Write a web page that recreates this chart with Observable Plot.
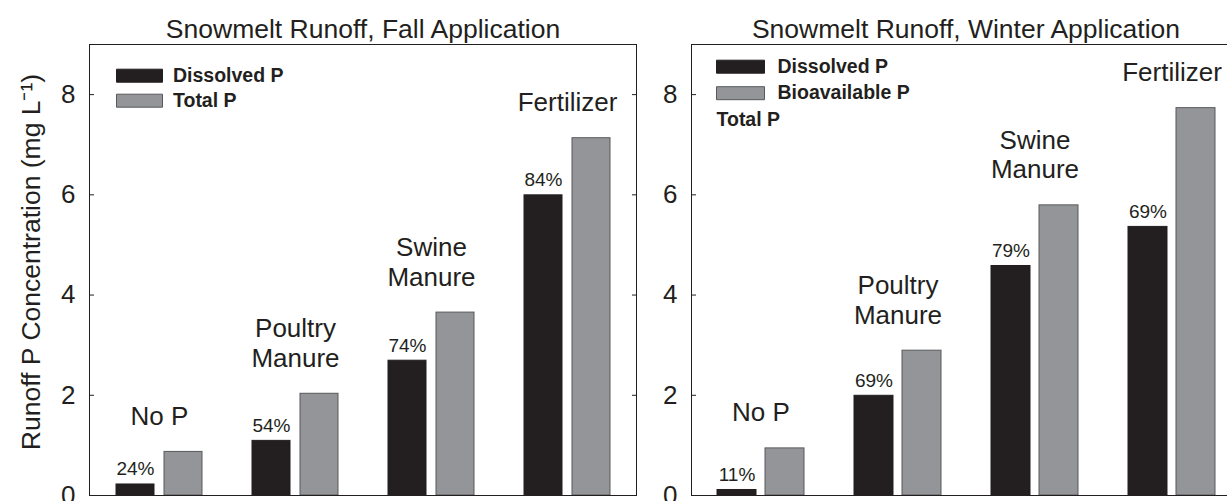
<!DOCTYPE html>
<html>
<head>
<meta charset="utf-8">
<script src="https://cdn.jsdelivr.net/npm/d3@7"></script>
<script src="https://cdn.jsdelivr.net/npm/@observablehq/plot@0.6"></script>
<style>
  html, body { margin: 0; padding: 0; background: #fff; overflow: hidden; }
  #chart { position: relative; width: 1227px; height: 501px; overflow: hidden; }
  #chart > svg, #chart > figure, #chart > div { position: absolute; top: 0; margin: 0; }
</style>
</head>
<body>
<div id="chart"></div>
<script>
// ---- data ----
const treatments = ["No P", "Poultry Manure", "Swine Manure", "Fertilizer"];
const treatmentLabels = ["No P", "Poultry\nManure", "Swine\nManure", "Fertilizer"];
const fallTitle = "Snowmelt Runoff, Fall Application";
const winterTitle = "Snowmelt Runoff, Winter Application";
const fallDissolved = [0.22, 1.09, 2.69, 5.99];
const fallTotal = [0.87, 2.03, 3.65, 7.13];
const fallPercent = ["24%", "54%", "74%", "84%"];
const winterDissolved = [0.11, 1.99, 4.58, 5.36];
const winterBioavailable = [0.94, 2.89, 5.79, 7.73];
const winterPercent = ["11%", "69%", "79%", "69%"];
const fallLegend = ["Dissolved P", "Total P"];
const winterLegend = ["Dissolved P", "Bioavailable P", "Total P"];
const yTicks = [0, 2, 4, 6, 8];
const yDomain = [0, 9];
const yLabel = "Runoff P Concentration (mg L\u207B\u00B9)";

// ---- styles ----
const INK = "#231f20";
const GRAY = "#939598";
const GRAY_EDGE = "#58595b";
const FONT = "'Liberation Sans', Arial, Helvetica, sans-serif";
const SWATCH = {
  dark: {fill: INK, stroke: INK},
  gray: {fill: GRAY, stroke: GRAY_EDGE},
  none: null
};

function rectSymbol(w, h) {
  return {draw(ctx) { ctx.rect(-w / 2, -h / 2, w, h); }};
}

function legendMarks(entries, swatches, {swatchX, swatchW, textX, top, step}) {
  const marks = [];
  entries.forEach((name, i) => {
    const sw = SWATCH[swatches[i]];
    const dy = top + i * step;
    if (sw) {
      marks.push(Plot.dot([name], {
        frameAnchor: "top-left", dx: swatchX, dy,
        symbol: rectSymbol(swatchW, 13), fill: sw.fill, stroke: sw.stroke, strokeWidth: 1
      }));
    }
    marks.push(Plot.text([name], {
      frameAnchor: "top-left", dx: sw ? textX : swatchX - swatchW / 2, dy,
      text: d => d, textAnchor: "start", lineAnchor: "middle",
      fontSize: 19.5, fontWeight: "bold", fill: INK
    }));
  });
  return marks;
}

function panel({title, low, high, pct, legend, swatches, legendLayout, showYLabel,
                width, marginLeft, marginRight}) {
  const rows = treatments.map((t, i) => ({
    treatment: t, label: treatmentLabels[i], low: low[i], high: high[i], pct: pct[i]
  }));
  const marks = [
    Plot.barY(rows, {x: "treatment", y: "high", fill: GRAY, stroke: GRAY_EDGE, strokeWidth: 1,
                     insetLeft: 73, insetRight: 25}),
    Plot.barY(rows, {x: "treatment", y: "low", fill: INK, stroke: INK, strokeWidth: 1,
                     insetLeft: 25, insetRight: 73}),
    Plot.text(rows, {x: "treatment", y: "low", text: "pct", dx: -24, dy: -9,
                     lineAnchor: "bottom", fontSize: 19, fill: INK}),
    Plot.text(rows, {x: "treatment", y: "high", text: "label", dy: -27,
                     lineAnchor: "bottom", fontSize: 26, lineHeight: 1.13, fill: INK}),
    Plot.frame({stroke: INK, strokeWidth: 1}),
    Plot.axisY({anchor: "left", ticks: yTicks, tickSize: -5, tickPadding: 19,
                fontSize: 26, fill: INK, stroke: INK, label: null}),
    Plot.axisY({anchor: "right", ticks: yTicks, tickSize: -5, tickFormat: () => "",
                stroke: INK, label: null}),
    Plot.text([title], {frameAnchor: "top", text: d => d, dy: -7, lineAnchor: "bottom",
                        fontSize: 26.5, fill: INK}),
    ...legendMarks(legend, swatches, legendLayout)
  ];
  if (showYLabel) {
    marks.push(Plot.text([yLabel], {frameAnchor: "left", text: d => d, rotate: -90,
                                    textAnchor: "middle", lineAnchor: "middle",
                                    dx: -58, dy: -8, fontSize: 26.5, fill: INK}));
  }
  return Plot.plot({
    width, height: 530,
    marginLeft, marginRight, marginTop: 44, marginBottom: 35,
    style: {fontFamily: FONT, color: INK, background: "transparent", overflow: "visible"},
    x: {domain: treatments, padding: 0, axis: null},
    y: {domain: yDomain, axis: null},
    marks
  });
}

const left = panel({
  title: fallTitle, low: fallDissolved, high: fallTotal, pct: fallPercent,
  legend: fallLegend, swatches: ["dark", "gray"],
  legendLayout: {swatchX: 50, swatchW: 46, textX: 83.5, top: 31.2, step: 25},
  showYLabel: true, width: 650, marginLeft: 89, marginRight: 14
});
const right = panel({
  title: winterTitle, low: winterDissolved, high: winterBioavailable, pct: winterPercent,
  legend: winterLegend, swatches: ["dark", "gray", "none"],
  legendLayout: {swatchX: 49, swatchW: 48, textX: 86, top: 22.2, step: 26.5},
  showYLabel: false, width: 640, marginLeft: 71, marginRight: 20
});
left.style.left = "0px";
right.style.left = "620px";
const chart = document.getElementById("chart");
chart.appendChild(left);
chart.appendChild(right);
</script>
</body>
</html>
